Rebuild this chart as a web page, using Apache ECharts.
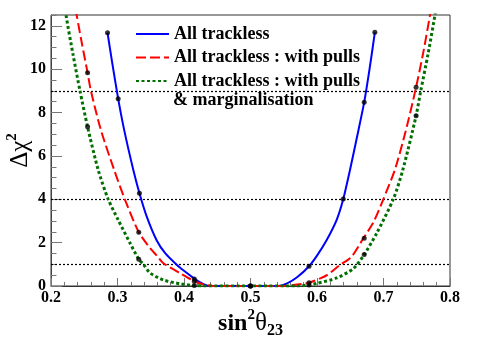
<!DOCTYPE html>
<html>
<head>
<meta charset="utf-8">
<script src="https://cdn.jsdelivr.net/npm/echarts@6/dist/echarts.min.js"></script>
<style>
  html, body { margin: 0; padding: 0; background: #fff; }
  #chart { width: 498px; height: 339px; }
</style>
</head>
<body>
<div id="chart"></div>
<script>
; (function () {
  var byId = function (id) {
    return document.getElementById(id);
  };

  // curves (sin2 theta23, delta chi2)
  var blueX = [0.285, 0.292, 0.301, 0.310, 0.3238, 0.333, 0.344, 0.359, 0.372, 0.389, 0.400, 0.4155, 0.425, 0.434, 0.440, 0.500, 0.541, 0.555, 0.570, 0.588, 0.600, 0.6146, 0.6296, 0.6395, 0.6496, 0.660, 0.671, 0.679, 0.687];
  var blueY = [11.68, 10.30, 8.64, 7.20, 5.35, 4.28, 3.20, 2.10, 1.50, 0.98, 0.70, 0.34, 0.15, 0.03, 0.00, 0.00, 0.00, 0.12, 0.40, 0.91, 1.40, 2.12, 3.05, 4.01, 5.35, 6.85, 8.48, 10.0, 11.70];

  var redX = [0.234, 0.2386, 0.247, 0.255, 0.260, 0.275, 0.295, 0.311, 0.332, 0.349, 0.359, 0.369, 0.394, 0.4155, 0.43, 0.444, 0.50, 0.55, 0.57, 0.588, 0.605, 0.615, 0.6346, 0.652, 0.6697, 0.685, 0.6997, 0.717, 0.733, 0.749, 0.760, 0.770, 0.774];
  var redY = [13.4, 12.5, 11.1, 9.84, 9.0, 7.2, 5.35, 4.0, 2.48, 1.75, 1.4, 1.05, 0.59, 0.22, 0.07, 0.0, 0.0, 0.0, 0.07, 0.15, 0.35, 0.5, 0.97, 1.35, 2.2, 2.95, 4.0, 5.35, 7.1, 9.17, 10.8, 12.5, 13.1];

  var greenX = [0.219, 0.2226, 0.233, 0.2436, 0.255, 0.271, 0.286, 0.301, 0.319, 0.332, 0.339, 0.349, 0.369, 0.394, 0.4155, 0.43, 0.50, 0.57, 0.588, 0.5995, 0.6296, 0.6546, 0.671, 0.6897, 0.7147, 0.729, 0.749, 0.756, 0.767, 0.7774, 0.781];
  var greenY = [13.5, 12.5, 10.7, 9.0, 7.34, 5.35, 4.0, 3.05, 1.97, 1.23, 1.0, 0.6, 0.28, 0.1, 0.02, 0, 0, 0, 0.05, 0.12, 0.37, 0.8, 1.45, 2.43, 4.0, 5.35, 7.85, 9.0, 10.7, 12.5, 13.2];

  // black markers on the curves
  var blueDotX = [0.285, 0.301, 0.333, 0.4155, 0.5, 0.588, 0.6395, 0.671, 0.687];
  var blueDotY = [11.68, 8.64, 4.28, 0.32, 0, 0.91, 4.01, 8.48, 11.7];
  var redDotX = [0.255, 0.332, 0.4155, 0.5, 0.588, 0.671, 0.749];
  var redDotY = [9.84, 2.48, 0.22, 0, 0.15, 2.2, 9.17];
  var greenDotX = [0.255, 0.332, 0.4155, 0.5, 0.588, 0.671, 0.749];
  var greenDotY = [7.34, 1.23, 0.02, 0, 0.05, 1.45, 7.85];

  // dotted reference levels
  var levels = [1, 4, 9];

  var names = ['All trackless', 'All trackless : with pulls', 'All trackless : with pulls & marginalisation'];

  var pairs = function (xs, ys) {
    return xs.map(function (x, i) { return [x, ys[i]]; });
  };

  var serif = 'Liberation Serif';

  var chart = echarts.init(byId('chart'));

  var lineSeries = function (name, xs, ys, color, type, width) {
    return {
      name: name,
      type: 'line',
      data: pairs(xs, ys),
      symbol: 'none',
      smooth: 0.25,
      clip: true,
      lineStyle: { color: color, width: width, type: type, cap: 'butt' },
      itemStyle: { color: color },
      z: 3
    };
  };

  var dotSeries = function (xs, ys) {
    return {
      type: 'scatter',
      data: pairs(xs, ys),
      symbol: 'circle',
      symbolSize: 5,
      itemStyle: { color: '#000' },
      z: 5,
      silent: true
    };
  };

  var blue = lineSeries(names[0], blueX, blueY, '#0000ff', 'solid', 2);
  blue.markLine = {
    silent: true,
    symbol: 'none',
    label: { show: false },
    lineStyle: { color: '#000', type: [2, 2], width: 1.2 },
    data: levels.map(function (v) { return { yAxis: v }; }),
    z: 2
  };

  chart.setOption({
    animation: false,
    backgroundColor: '#fff',
    grid: {
      left: 51, top: 15, right: 48, bottom: 53,
      outerBoundsMode: 'none',
      containLabel: false,
      show: true, borderColor: '#333', borderWidth: 1
    },
    legend: {
      data: names,
      orient: 'vertical',
      left: 135,
      top: 25,
      padding: 0,
      itemWidth: 33,
      itemHeight: 12,
      itemGap: 5.5,
      selectedMode: false,
      itemStyle: { opacity: 0, borderWidth: 0 },
      formatter: function (name) { return name.split(' & ')[0]; },
      textStyle: { fontFamily: serif, fontWeight: 'bold', fontSize: 18, color: '#000', lineHeight: 18 }
    },
    graphic: [{
      type: 'text',
      left: 173,
      top: 91,
      style: { text: '& marginalisation', font: 'bold 18px "Liberation Serif"', fill: '#000' }
    }],
    xAxis: {
      type: 'value',
      min: 0.2,
      max: 0.8,
      interval: 0.1,
      name: '{a|sin}{s|2}{g|θ}{b|23}',
      nameLocation: 'middle',
      nameGap: 22,
      nameMoveOverlap: false,
      nameTextStyle: {
        rich: {
          a: { fontFamily: serif, fontWeight: 'bold', fontSize: 24, color: '#000' },
          s: { fontFamily: serif, fontWeight: 'bold', fontSize: 15, color: '#000', padding: [0, 0, 16, 0] },
          g: { fontFamily: serif, fontSize: 25, color: '#000' },
          b: { fontFamily: serif, fontWeight: 'bold', fontSize: 16, color: '#000', padding: [14, 0, 0, 0] }
        }
      },
      axisLine: { lineStyle: { color: '#333', width: 1 } },
      axisTick: { inside: true, length: 8, lineStyle: { color: '#777' } },
      minorTick: { show: true, splitNumber: 5, length: 4, lineStyle: { color: '#777' } },
      splitLine: { show: false },
      axisLabel: {
        margin: 4,
        fontFamily: serif, fontWeight: 'bold', fontSize: 16, color: '#000',
        formatter: function (v) { return v.toFixed(1); }
      }
    },
    yAxis: [{
      type: 'value',
      min: 0,
      max: 12.5,
      interval: 2,
      name: '{a|Δχ}{s|2}',
      nameLocation: 'middle',
      nameRotate: 90,
      nameGap: 15,
      nameMoveOverlap: false,
      nameTextStyle: {
        rich: {
          a: { fontFamily: serif, fontSize: 25, color: '#000' },
          s: { fontFamily: serif, fontWeight: 'bold', fontSize: 15, color: '#000', padding: [0, 0, 16, 0] }
        }
      },
      axisLine: { show: true, lineStyle: { color: '#444', width: 1 } },
      axisTick: { inside: true, length: 11, lineStyle: { color: '#777' } },
      splitLine: { show: false },
      axisLabel: {
        margin: 5,
        showMaxLabel: false,
        fontFamily: serif, fontWeight: 'bold', fontSize: 16, color: '#000'
      }
    }, {
      type: 'value',
      position: 'left',
      min: 0,
      max: 12.5,
      interval: 0.5,
      axisLine: { show: false },
      axisTick: { inside: true, length: 5.5, lineStyle: { color: '#777' } },
      axisLabel: { show: false },
      splitLine: { show: false }
    }],
    series: [
      blue,
      lineSeries(names[1], redX, redY, '#ff0000', [10, 4], 2),
      lineSeries(names[2], greenX, greenY, '#007000', [3, 2.5], 3),
      dotSeries(blueDotX, blueDotY),
      dotSeries(redDotX, redDotY),
      dotSeries(greenDotX, greenDotY)
    ]
  });
})();
</script>
</body>
</html>
